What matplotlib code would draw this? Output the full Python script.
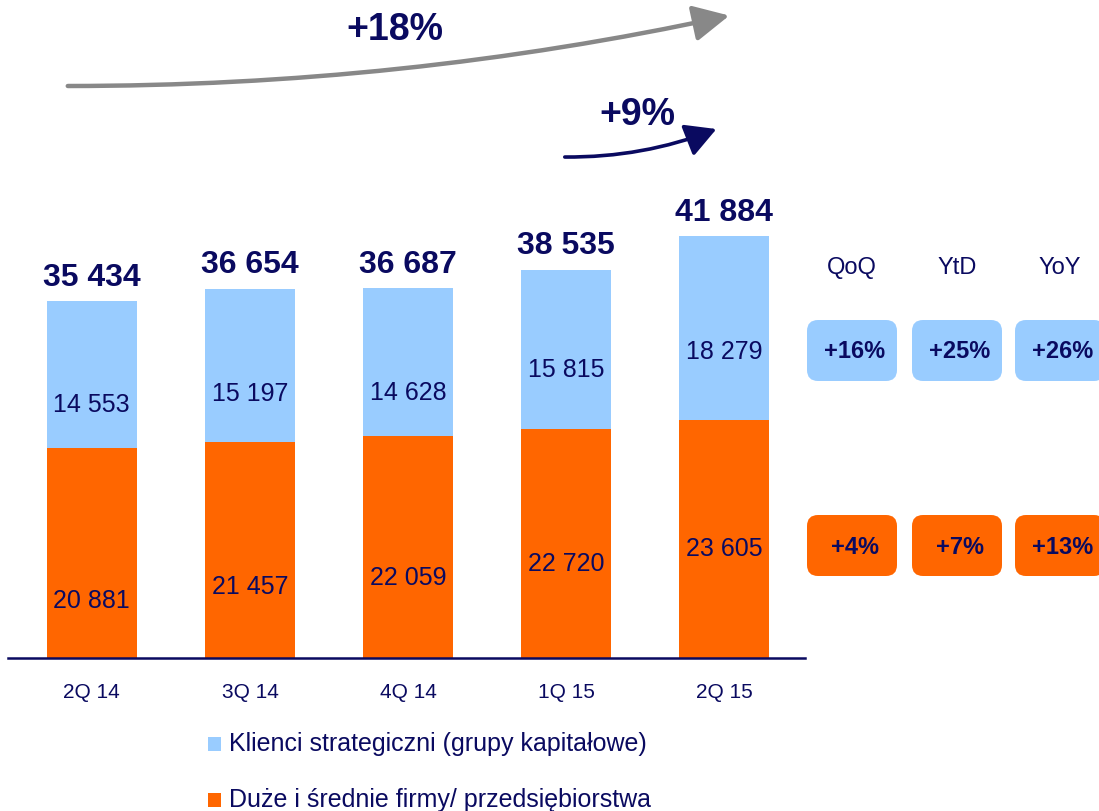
import matplotlib
matplotlib.use("Agg")
import matplotlib.pyplot as plt
from matplotlib.patches import FancyBboxPatch, FancyArrowPatch, Rectangle
from matplotlib.transforms import IdentityTransform

plt.rcParams['font.family'] = ['Liberation Sans', 'DejaVu Sans']

# data
quarters = ["2Q 14", "3Q 14", "4Q 14", "1Q 15", "2Q 15"]
strategic = [14553, 15197, 14628, 15815, 18279]
mid_large = [20881, 21457, 22059, 22720, 23605]
totals = [35434, 36654, 36687, 38535, 41884]

change_headers = ["QoQ", "YtD", "YoY"]
strategic_changes = ["+16%", "+25%", "+26%"]
mid_large_changes = ["+4%", "+7%", "+13%"]
growth_long = "+18%"
growth_short = "+9%"

legend_labels = ["Klienci strategiczni (grupy kapitałowe)",
                 "Duże i średnie firmy/ przedsiębiorstwa"]

ORANGE = "#FF6600"
BLUE = "#99CCFF"
NAVY = "#0A0A60"
W, H = 1099, 811

# where inside each segment the value label sits (fraction of segment height)
blue_lbl_frac = [0.29, 0.31, 0.29, 0.37, 0.37]
orange_lbl_frac = [0.27, 0.33, 0.36, 0.41, 0.46]


def fmt(v):
    return f"{v:,}".replace(",", " ")


def px(x, y):
    # image pixel (top-left origin) -> display coords
    return x, H - y


fig = plt.figure(figsize=(W / 100, H / 100), dpi=100)
ax = fig.add_axes([8 / W, (H - 658) / H, 797 / W, 658 / H])
ax.set_xlim(-0.53, 4.51)
ax.set_ylim(0, 658 * 99.2)
for s in ["top", "right", "left"]:
    ax.spines[s].set_visible(False)
ax.spines["bottom"].set_color(NAVY)
ax.spines["bottom"].set_linewidth(1.8)
ax.set_yticks([])

xs = range(len(quarters))
ax.bar(xs, mid_large, width=0.57, color=ORANGE, zorder=2)
ax.bar(xs, strategic, width=0.57, bottom=mid_large, color=BLUE, zorder=2)

for i in xs:
    ax.text(i, mid_large[i] * orange_lbl_frac[i], fmt(mid_large[i]),
            ha="center", va="center", fontsize=18, color=NAVY)
    ax.text(i, mid_large[i] + strategic[i] * blue_lbl_frac[i], fmt(strategic[i]),
            ha="center", va="center", fontsize=18, color=NAVY)
    ax.text(i, totals[i] + 800, fmt(totals[i]), ha="center", va="bottom",
            fontsize=23, fontweight="bold", color=NAVY)

ax.set_xticks(list(xs))
ax.set_xticklabels(quarters, fontsize=15, color=NAVY)
ax.tick_params(axis="x", length=0, pad=18)

# growth arrows
a1 = FancyArrowPatch(px(65, 86), px(732, 15), connectionstyle="arc3,rad=0.054",
                     arrowstyle="-|>,head_length=1.1,head_width=0.55", mutation_scale=20,
                     color="#888888", lw=3.2, transform=IdentityTransform())
fig.add_artist(a1)
fig.text(395 / W, 1 - 30 / H, growth_long, ha="center", va="center",
         fontsize=27, fontweight="bold", color=NAVY)

a2 = FancyArrowPatch(px(562, 157), px(719, 128), connectionstyle="arc3,rad=0.1",
                     arrowstyle="-|>,head_length=1.1,head_width=0.6", mutation_scale=17,
                     color=NAVY, lw=2.6, transform=IdentityTransform())
fig.add_artist(a2)
fig.text(637 / W, 1 - 115 / H, growth_short, ha="center", va="center",
         fontsize=27, fontweight="bold", color=NAVY)

# change boxes
col_x = [852, 957, 1060]
for j, hdr in enumerate(change_headers):
    fig.text(col_x[j] / W, 1 - 268 / H, hdr, ha="center", va="center",
             fontsize=17, color=NAVY)
    for labels, color, ytop in [(strategic_changes, BLUE, 320), (mid_large_changes, ORANGE, 515)]:
        x0, y0 = px(col_x[j] - 45, ytop + 61)
        box = FancyBboxPatch((x0, y0), 90, 61, boxstyle="round,pad=0,rounding_size=11",
                             facecolor=color, edgecolor="none", transform=IdentityTransform())
        fig.add_artist(box)
        fig.text(col_x[j] / W + 3 / W, 1 - (ytop + 32) / H, labels[j], ha="center", va="center",
                 fontsize=17, fontweight="bold", color=NAVY)

# legend
for k, (lbl, color) in enumerate(zip(legend_labels, [BLUE, ORANGE])):
    yc = 744 + k * 56
    x0, y0 = px(208, yc + 7)
    fig.add_artist(Rectangle((x0, y0), 13, 14, facecolor=color, edgecolor="none",
                             transform=IdentityTransform()))
    fig.text(229 / W, 1 - yc / H, lbl, ha="left", va="center", fontsize=18, color=NAVY)

fig.savefig("out.png", dpi=100)
